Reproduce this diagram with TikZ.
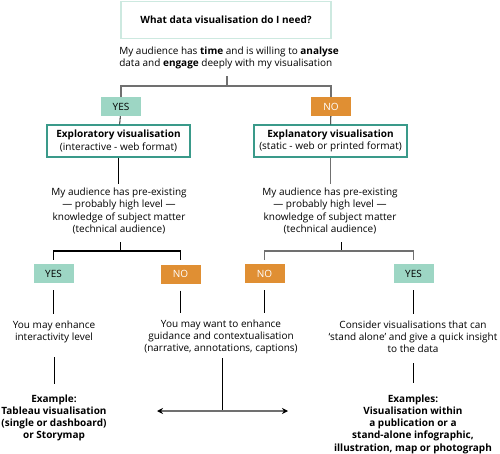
\documentclass[tikz,border=0pt]{standalone}
\usepackage{fontspec}
\setmainfont{Open Sans}
\usetikzlibrary{arrows.meta,calc}
\definecolor{mint}{HTML}{CDE9E0}
\definecolor{yesgreen}{HTML}{9DD6C4}
\definecolor{noorange}{HTML}{E08F33}
\definecolor{teal}{HTML}{3A9A8A}
\definecolor{bargrey}{HTML}{707070}
\tikzset{
	txt/.style={font=\fontsize{10}{12.2}\selectfont, align=center, inner sep=0pt},
	yesbox/.style={txt, fill=yesgreen, minimum width=40pt, minimum height=19pt},
	nobox/.style={txt, fill=noorange, text=white, minimum width=40pt, minimum height=19pt},
	kindbox/.style={txt, draw=teal, line width=1.2pt, minimum height=32pt},
	stub/.style={black, line width=0.8pt},
	bar/.style={bargrey, line width=1.3pt}
}
\begin{document}
\begin{tikzpicture}[x=1pt,y=-1pt]
		\useasboundingbox (0,0) rectangle (500,454);
		\node[txt, draw=mint, line width=1.2pt, minimum width=210pt, minimum height=37pt] (q) at (226,20) {\textbf{What data visualisation do I need?}};
		\node[txt, align=left] (t1) at (229,58) {My audience has \textbf{time} and is willing to \textbf{analyse}\\data and \textbf{engage} deeply with my visualisation};
		\node[yesbox] (yes1) at (121,106.5) {YES};
		\node[nobox] (no1) at (331,106.5) {NO};
		\node[kindbox, minimum width=143pt] (exp1) at (118.5,141) {\textbf{Exploratory visualisation}\\(interactive - web format)};
		\node[kindbox, minimum width=153pt] (exp2) at (330.5,141) {\textbf{Explanatory visualisation}\\(static - web or printed format)};
		\node[txt] (k1) at (119,211) {My audience has pre-existing\\--- probably high level ---\\knowledge of subject matter\\(technical audience)};
		\node[txt] (k2) at (330,211) {My audience has pre-existing\\--- probably high level ---\\knowledge of subject matter\\(technical audience)};
		\node[yesbox] (yes2) at (53.5,273.5) {YES};
		\node[nobox] (no2) at (180.5,274) {NO};
		\node[nobox] (no3) at (264.5,273.5) {NO};
		\node[yesbox] (yes3) at (413.5,273.5) {YES};
		\node[txt] (e1) at (54,332) {You may enhance\\interactivity level};
		\node[txt] (e2) at (221,337) {You may want to enhance\\guidance and contextualisation\\(narrative, annotations, captions)};
		\node[txt] (e3) at (413,337) {Consider visualisations that can\\`stand alone' and give a quick insight\\to the data};
		\node[txt, font=\fontsize{10}{12.2}\selectfont\bfseries] (ex1) at (54,418) {Example:\\Tableau visualisation\\(single or dashboard)\\or Storymap};
		\node[txt, font=\fontsize{10}{12.2}\selectfont\bfseries] (ex2) at (413,424) {Examples:\\Visualisation within\\a publication or a\\stand-alone infographic,\\illustration, map or photograph};
		% brackets
		\coordinate (j1) at (227,86);
		\coordinate (j2) at (120,251);
		\coordinate (j3) at (341,251);
		\draw[bar] (j1) -- ++(0,-10);
		\draw[bar] (yes1.north) -- (yes1.north |- j1) -- (no1.north |- j1) -- (no1.north);
		\draw[stub] (j2) -- ++(0,-9);
		\draw[bar, black] (yes2.north) ++(0,-4) |- (j2) -| ($(no2.north)+(0,-4)$);
		\draw[stub] (j3) -- ++(0,-9);
		\draw[bar] (no3.north) ++(0,-4) |- (j3) -| ($(yes3.north)+(0,-4)$);
		% links
		\draw[stub] (yes1) -- (exp1);
		\draw[stub] (no1) -- (exp2);
		\draw[stub] (exp1.south) -- ($(exp1.south)+(0,26)$);
		\draw[stub, bargrey] (exp2.south) -- ($(exp2.south)+(0,26)$);
		\foreach \b/\t in {yes2/e1, no2/e2, no3/e2, yes3/e3}
			\draw[stub, shorten <=7pt, shorten >=7pt] (\b.south) -- (\b.south |- \t.north);
		\draw[stub] ($(e1.south)+(0,14)$) -- ($(ex1.north)+(0,-11)$);
		\draw[stub] ($(e3.south)+(0,10)$) -- ($(ex2.north)+(0,-11)$);
		% double arrow
		\coordinate (mid) at (222,411);
		\draw[stub, shorten <=4pt] (e2.south -| mid) -- (mid);
		\draw[bar, {Stealth[length=6pt,width=6pt,black]}-{Stealth[length=6pt,width=6pt,black]}] ($(mid)+(-65,0)$) -- ($(mid)+(66,0)$);
	\end{tikzpicture}
\end{document}
